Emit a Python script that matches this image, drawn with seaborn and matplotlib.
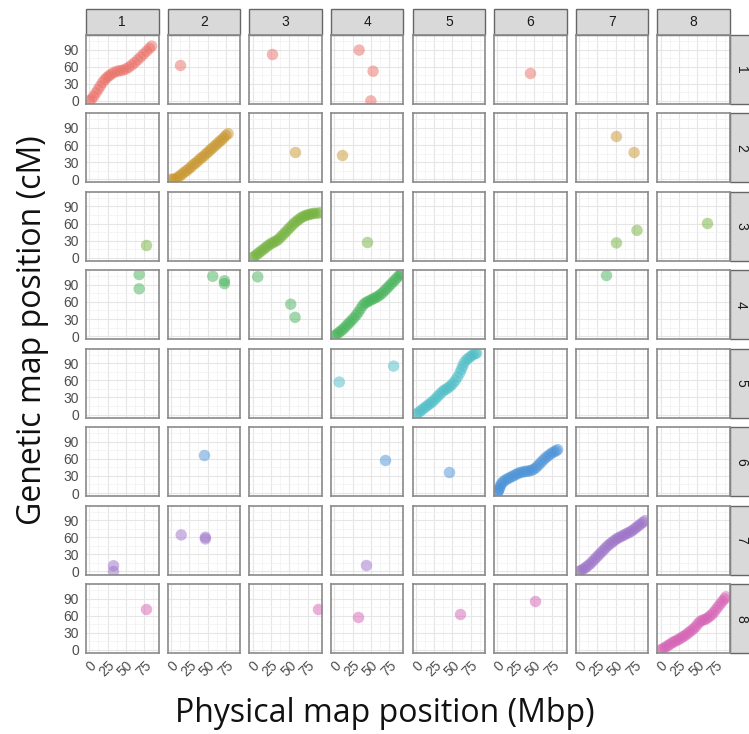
import pandas as pd
import matplotlib.pyplot as plt
from matplotlib.patches import Rectangle
import seaborn as sns

# Estilo geral
sns.set_style("white")
plt.rcParams['font.family'] = ['Liberation Sans', 'DejaVu Sans']

groups = [1, 2, 3, 4, 5, 6, 7, 8]
colors = ['#EA6F66', '#C8962E', '#74B23E', '#46B35A',
          '#4DBDC6', '#4C93D8', '#9C73C8', '#D562B5']

# Cromossomo físico == grupo de ligação (diagonal)
chr1_mbp = [0, 3, 6, 9, 12, 15, 18, 21, 24, 27, 30, 34, 38, 42, 46, 50, 54, 58, 62, 66, 70, 74, 78, 82, 85]
chr1_cm = [0, 3, 8, 14, 20, 26, 32, 37, 41, 44, 47, 50, 52, 53, 54, 56, 59, 63, 67, 72, 77, 82, 87, 92, 96]

chr2_mbp = [0, 3, 6, 9, 12, 15, 18, 21, 24, 27, 30, 33, 36, 39, 42, 45, 48, 51, 54, 57, 60, 63, 66, 69, 72, 75, 78]
chr2_cm = [0, 0, 1, 3, 6, 9, 12, 15, 18, 21, 25, 28, 31, 35, 38, 41, 45, 48, 52, 55, 59, 62, 66, 69, 73, 77, 80]

chr3_mbp = [0, 3, 6, 9, 12, 15, 18, 21, 24, 27, 30, 33, 36, 39, 42, 45, 48, 51, 54, 57, 60, 63, 66, 69, 72, 75, 78, 81, 84, 88, 92]
chr3_cm = [0, 3, 6, 9, 12, 15, 18, 21, 24, 26, 28, 30, 33, 37, 41, 45, 49, 53, 57, 61, 64, 67, 70, 72, 74, 75, 76, 77, 78, 78, 79]

chr4_mbp = [0, 3, 6, 9, 12, 15, 18, 21, 24, 27, 30, 33, 36, 39, 42, 45, 48, 51, 54, 57, 60, 63, 66, 69, 72, 75, 78, 81, 84, 87, 90, 92]
chr4_cm = [0, 3, 6, 9, 12, 16, 20, 24, 28, 32, 37, 42, 48, 54, 58, 60, 62, 64, 66, 68, 70, 73, 76, 80, 84, 88, 92, 96, 100, 104, 108, 110]

chr5_mbp = [0, 3, 6, 9, 12, 15, 18, 21, 24, 27, 30, 33, 36, 39, 42, 45, 48, 51, 54, 57, 60, 62, 64, 66, 69, 72, 75, 78, 81, 83]
chr5_cm = [0, 3, 6, 9, 12, 15, 18, 21, 24, 28, 32, 36, 40, 43, 45, 48, 51, 55, 60, 66, 73, 79, 85, 91, 96, 99, 102, 105, 107, 108]

chr6_mbp = [0, 1, 2, 3, 4, 6, 8, 11, 14, 17, 20, 23, 26, 29, 32, 35, 38, 41, 44, 47, 50, 53, 56, 59, 62, 65, 68, 71, 74, 77, 80, 82]
chr6_cm = [0, 3, 6, 9, 13, 17, 20, 23, 25, 27, 29, 31, 33, 35, 36, 37, 38, 38, 39, 40, 42, 45, 49, 53, 57, 61, 64, 67, 70, 72, 74, 76]

chr7_mbp = [0, 3, 6, 9, 12, 15, 18, 21, 24, 27, 30, 33, 36, 39, 42, 45, 48, 51, 54, 57, 60, 63, 66, 69, 72, 75, 78, 81, 84, 87, 90]
chr7_cm = [0, 2, 4, 7, 10, 13, 17, 21, 25, 29, 33, 37, 41, 45, 48, 51, 54, 57, 59, 61, 63, 65, 67, 69, 71, 74, 77, 80, 83, 86, 89]

chr8_mbp = [0, 3, 6, 9, 12, 15, 18, 21, 24, 27, 30, 33, 36, 39, 42, 45, 48, 51, 54, 57, 60, 63, 66, 69, 72, 75, 78, 81, 84, 87, 89]
chr8_cm = [0, 2, 4, 7, 9, 12, 14, 16, 18, 20, 23, 25, 28, 31, 34, 37, 41, 46, 50, 52, 53, 55, 58, 61, 65, 70, 75, 80, 85, 89, 93]

# Marcadores fora da diagonal
off_lg = [1, 1, 1, 1, 1, 1,
          2, 2, 2, 2,
          3, 3, 3, 3, 3,
          4, 4, 4, 4, 4, 4, 4, 4, 4,
          5, 5,
          6, 6, 6,
          7, 7, 7, 7, 7, 7,
          8, 8, 8, 8, 8]
off_chr = [2, 3, 4, 4, 4, 6,
           3, 4, 7, 7,
           1, 4, 7, 7, 8,
           1, 1, 2, 2, 2, 3, 3, 3, 7,
           4, 4,
           2, 4, 5,
           1, 1, 2, 2, 2, 4,
           1, 3, 4, 5, 6]
off_mbp = [13, 27, 34, 53, 50, 44,
           58, 11, 51, 75,
           77, 45, 51, 79, 63,
           68, 68, 57, 73, 73, 7, 52, 58, 37,
           7, 81,
           45, 69, 45,
           33, 33, 14, 47, 47, 43,
           77, 89, 32, 60, 51]
off_cm = [63, 82, 89, 52, 0, 49,
          48, 43, 75, 47,
          23, 27, 26, 48, 61,
          108, 83, 105, 97, 92, 104, 56, 33, 107,
          57, 85,
          66, 58, 37,
          10, 0, 64, 60, 57, 11,
          71, 71, 57, 62, 85]

diag = [(chr1_mbp, chr1_cm), (chr2_mbp, chr2_cm), (chr3_mbp, chr3_cm), (chr4_mbp, chr4_cm),
        (chr5_mbp, chr5_cm), (chr6_mbp, chr6_cm), (chr7_mbp, chr7_cm), (chr8_mbp, chr8_cm)]
frames = []
for g_id, (mbp, cm) in zip(groups, diag):
    frames.append(pd.DataFrame({"lg": g_id, "chrom": g_id, "mbp": mbp, "cm": cm}))
frames.append(pd.DataFrame({"lg": off_lg, "chrom": off_chr, "mbp": off_mbp, "cm": off_cm}))
df = pd.concat(frames, ignore_index=True)

g = sns.FacetGrid(df, row="lg", col="chrom", row_order=groups, col_order=groups,
                  sharex=True, sharey=True, height=0.9, aspect=1.05, despine=False)
g.map_dataframe(sns.scatterplot, x="mbp", y="cm", hue="lg", hue_order=groups,
                palette=colors, s=68, alpha=0.5, linewidth=0, legend=False)
g.set_titles("")
g.set_axis_labels("", "")

fig = g.figure
fig.set_size_inches(7.49, 7.34)
W, H = 749, 734
fig.subplots_adjust(left=86 / W, right=730 / W, top=1 - 35 / H, bottom=1 - 653 / H,
                    wspace=0.124, hspace=0.136)

pw, ph = 72.5, 69.0
for i, row in enumerate(g.axes):
    for j, ax in enumerate(row):
        ax.set_xlim(-4.5, 94.5)
        ax.set_ylim(-5.5, 115.5)
        ax.set_xticks([0, 25, 50, 75])
        ax.set_xticks([12.5, 37.5, 62.5, 87.5], minor=True)
        ax.set_yticks([0, 30, 60, 90])
        ax.set_yticks([15, 45, 75, 105], minor=True)
        ax.grid(which="major", color="#E6E6E6", linewidth=0.8)
        ax.grid(which="minor", color="#F2F2F2", linewidth=0.5)
        ax.set_axisbelow(True)
        for sp in ax.spines.values():
            sp.set_color("#8A8A8A")
            sp.set_linewidth(1.2)
        ax.tick_params(which="minor", length=0)
        ax.tick_params(axis="x", which="major", length=3 if i == 7 else 0, width=0.8,
                       color="#333333", labelsize=10, labelcolor="#4D4D4D", pad=1)
        ax.tick_params(axis="y", which="major", length=3 if j == 0 else 0, width=0.8,
                       color="#333333", labelsize=10, labelcolor="#4D4D4D", pad=2)
        if i == 7:
            for lab in ax.get_xticklabels():
                lab.set_rotation(45)
                lab.set_ha("right")
                lab.set_va("top")
                lab.set_rotation_mode("anchor")
        # faixa superior
        if i == 0:
            ax.add_patch(Rectangle((0, 1.0), 1, 26 / ph, transform=ax.transAxes,
                                   facecolor="#D9D9D9", edgecolor="#666666",
                                   linewidth=1.0, clip_on=False))
            ax.text(0.5, 1 + 13 / ph, str(groups[j]), transform=ax.transAxes,
                    ha="center", va="center", fontsize=10, color="#1A1A1A")
        # faixa lateral
        if j == 7:
            ax.add_patch(Rectangle((1.0, 0), 24 / pw, 1, transform=ax.transAxes,
                                   facecolor="#D9D9D9", edgecolor="#666666",
                                   linewidth=1.0, clip_on=False))
            ax.text(1 + 11 / pw, 0.5, str(groups[i]), transform=ax.transAxes,
                    ha="center", va="center", rotation=-90, fontsize=10, color="#1A1A1A")

fig.text(385 / W, 1 - 713 / H, "Physical map position (Mbp)", ha="center", va="center",
         fontsize=23, family=["Open Sans", "DejaVu Sans"], color="#111111")
fig.text(33 / W, 1 - 330 / H, "Genetic map position (cM)", ha="center", va="center",
         rotation=90, fontsize=23, family=["Open Sans", "DejaVu Sans"], color="#111111")

fig.savefig("out.png", dpi=100)
